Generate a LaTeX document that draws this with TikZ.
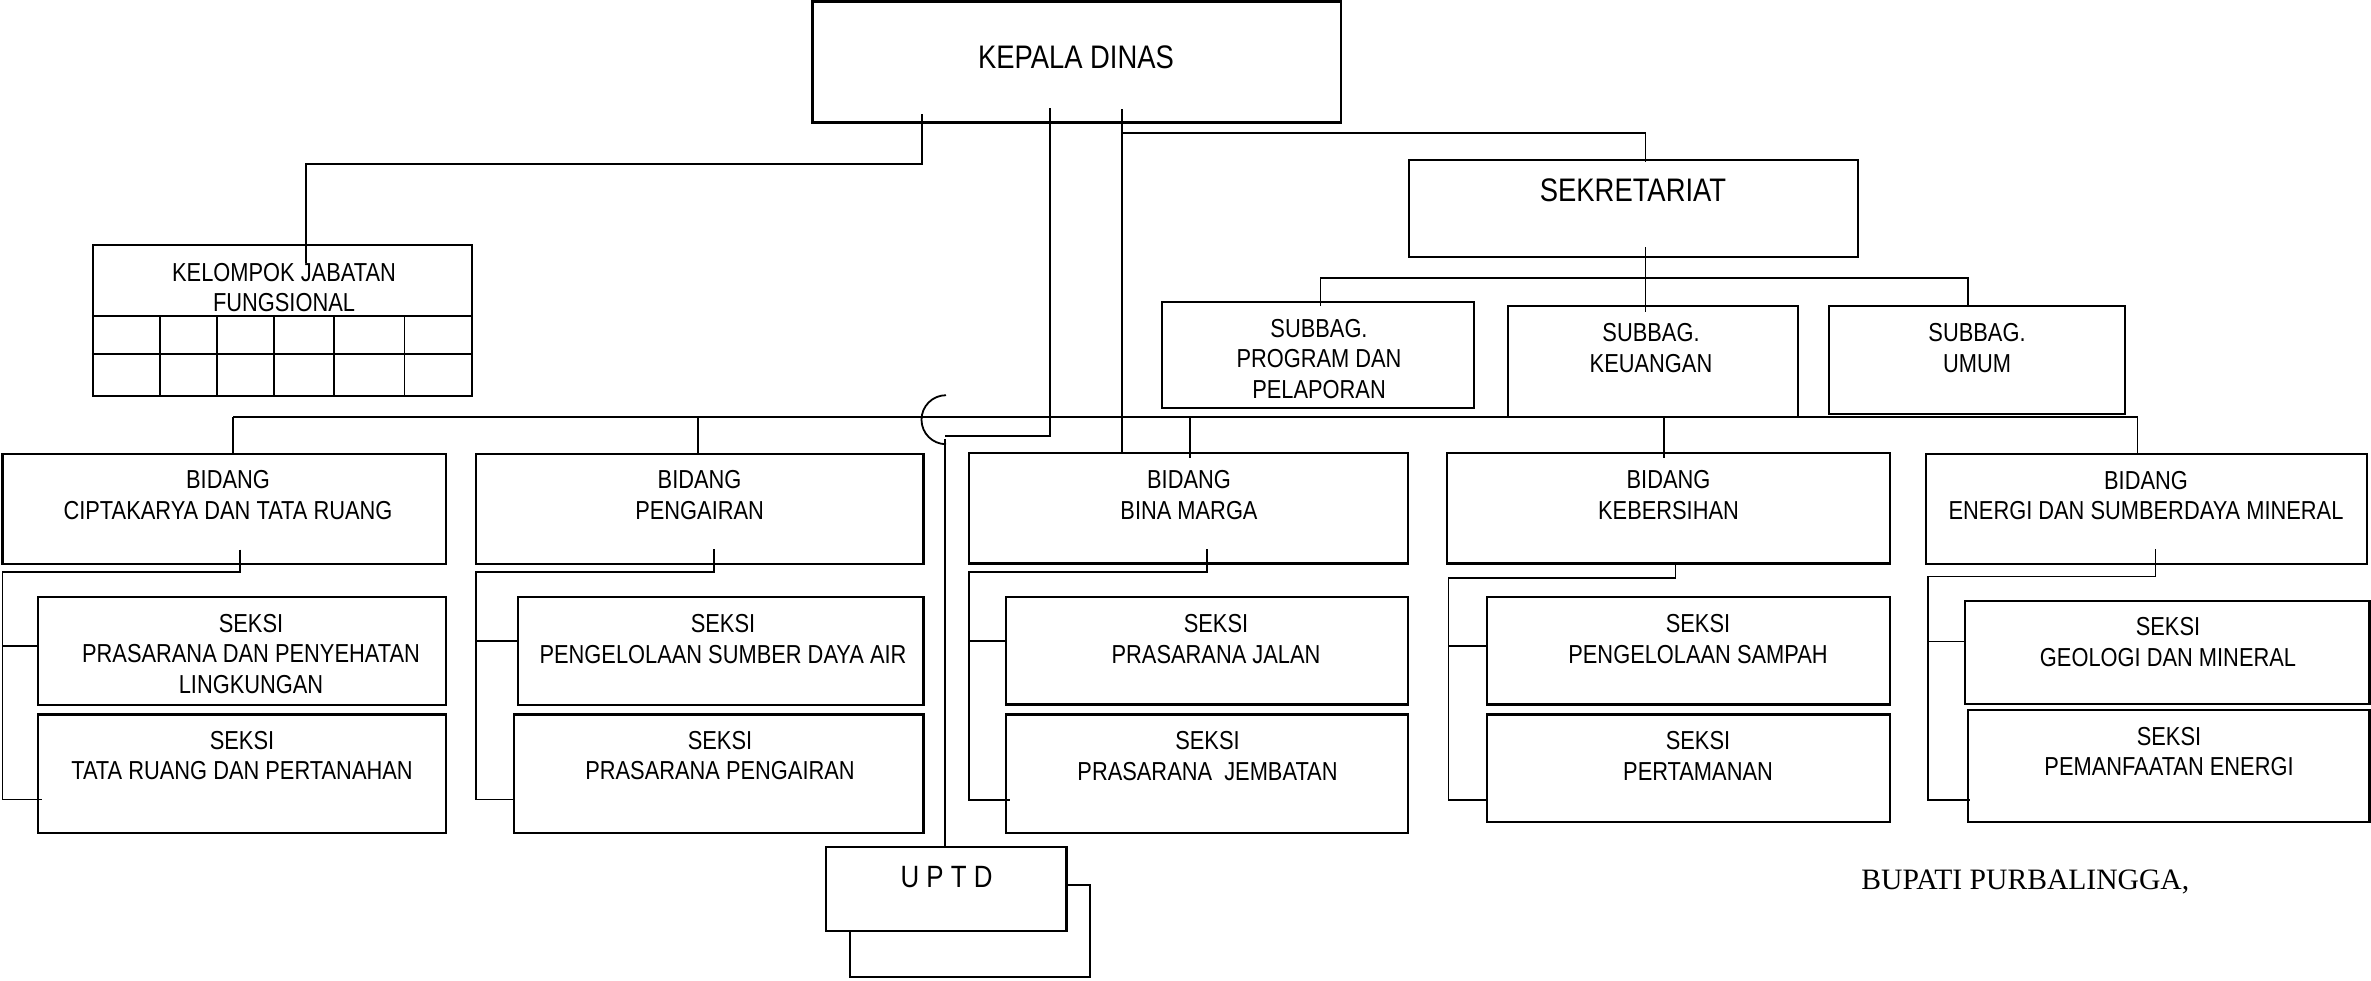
\documentclass[tikz,border=0pt]{standalone}
\usepackage{fontspec}
\newfontfamily\narrowsf[FakeStretch=0.84]{Liberation Sans}
\newfontfamily\timesrm{Liberation Serif}
\usetikzlibrary{fit}

\begin{document}
\begin{tikzpicture}[x=0.5pt, y=-0.5pt,
  box/.style={draw, line width=1.05pt, inner sep=0pt},
  link/.style={line width=0.9pt},
  lbl/.style={font=\narrowsf\fontsize{13}{15.3}\selectfont, align=center, inner sep=0pt},
  big/.style={font=\narrowsf\fontsize{16.3}{19}\selectfont, inner sep=0pt},
]
\useasboundingbox (0,0) rectangle (2371,980);

% ---------- top level ----------
\node[box, fit={(812.5,1.5) (1341,122.5)}] (kd) {};
\node[big] (kdT) at (1076,57) {KEPALA DINAS};

\node[box, fit={(1409,160) (1858,257)}] (sek) {};
\node[big] (sekT) at (1633,190) {SEKRETARIAT};

% functional group with its grid
\node[box, fit={(93,245) (472,396)}] (kjf) {};
\node[lbl] (kjfT) at (284,287.5) {KELOMPOK JABATAN\\FUNGSIONAL};
\draw[line width=1.05pt] (kjf.west |- 0,316) -- (kjf.east |- 0,316)
                         (kjf.west |- 0,354) -- (kjf.east |- 0,354);
\foreach \gx in {160,217,274,334,404.5}
  \draw[line width=0.9pt] (\gx,316) -- (\gx,316 |- kjf.south);

% ---------- sub-sections of the secretariat ----------
\node[box, fit={(1162,302) (1474,408)}] (sbp) {};
\node[lbl] (sbpT) at (1319,359) {SUBBAG.\\PROGRAM DAN\\PELAPORAN};
\node[box, fit={(1507.7,306) (1798,417)}] (sbk) {};
\node[lbl] (sbkT) at (1651,348) {SUBBAG.\\KEUANGAN};
\node[box, fit={(1828.7,306) (2125,414)}] (sbu) {};
\node[lbl] (sbuT) at (1977,348) {SUBBAG.\\UMUM};

% ---------- fields ----------
\node[box, fit={(2.5,453.8) (446,563.6)}] (bcp) {};
\node[lbl] (bcpT) at (228,495) {BIDANG\\CIPTAKARYA DAN TATA RUANG};
\node[box, fit={(476,453.8) (923.5,563.6)}] (bpg) {};
\node[lbl] (bpgT) at (699.6,495) {BIDANG\\PENGAIRAN};
\node[box, fit={(969,453) (1408,563.5)}] (bbm) {};
\node[lbl] (bbmT) at (1189,495.3) {BIDANG\\BINA MARGA};
\node[box, fit={(1446.6,453) (1890,563.5)}] (bkb) {};
\node[lbl] (bkbT) at (1668.5,495.3) {BIDANG\\KEBERSIHAN};
\node[box, fit={(1925.6,453.6) (2367,564)}] (bes) {};
\node[lbl] (besT) at (2146,495.5) {BIDANG\\ENERGI DAN SUMBERDAYA MINERAL};

% ---------- sections ----------
\node[box, fit={(38,597) (446,705)}] (s11) {};
\node[lbl] (s11T) at (251,654) {SEKSI\\PRASARANA DAN PENYEHATAN\\LINGKUNGAN};
\node[box, fit={(38,714.5) (446,833)}] (s12) {};
\node[lbl] (s12T) at (242,755.5) {SEKSI\\TATA RUANG DAN PERTANAHAN};

\node[box, fit={(518,597) (923.5,705)}] (s21) {};
\node[lbl] (s21T) at (723,639) {SEKSI\\PENGELOLAAN SUMBER DAYA AIR};
\node[box, fit={(514,714.5) (923.5,833)}] (s22) {};
\node[lbl] (s22T) at (720,755.5) {SEKSI\\PRASARANA PENGAIRAN};

\node[box, fit={(1006,597) (1408,704.5)}] (s31) {};
\node[lbl] (s31T) at (1216,639) {SEKSI\\PRASARANA JALAN};
\node[box, fit={(1006,714.5) (1408,833)}] (s32) {};
\node[lbl] (s32T) at (1207.5,756) {SEKSI\\PRASARANA~~JEMBATAN};

\node[box, fit={(1487,597) (1890,704.5)}] (s41) {};
\node[lbl] (s41T) at (1698,639) {SEKSI\\PENGELOLAAN SAMPAH};
\node[box, fit={(1487,714.5) (1890,821.7)}] (s42) {};
\node[lbl] (s42T) at (1698,756) {SEKSI\\PERTAMANAN};

\node[box, fit={(1964.6,601) (2369.5,704)}] (s51) {};
\node[lbl] (s51T) at (2168,642) {SEKSI\\GEOLOGI DAN MINERAL};
\node[box, fit={(1968,710) (2369.5,822)}] (s52) {};
\node[lbl] (s52T) at (2169,751.5) {SEKSI\\PEMANFAATAN ENERGI};

% ---------- technical unit (stacked boxes) ----------
\node[box, fit={(850,884.6) (1090,977)}] (uptdB) {};
\node[box, fill=white, fit={(826,847) (1066.5,931)}] (uptd) {};
\node[font=\narrowsf\fontsize{15.4}{18}\selectfont, inner sep=0pt] (uptdT) at (946.5,877) {U P T D};

% ---------- signature ----------
\node[font=\timesrm\fontsize{14.8}{17}\selectfont, anchor=base west, inner sep=0pt]
  (bupati) at (1861,889.6) {BUPATI PURBALINGGA,};

% ---------- connector points ----------
\coordinate (kdA) at (922,114);
\coordinate (kdAb) at (306,164);
\coordinate (kjfIn) at (306,263);
\coordinate (kdB) at (1050,108);
\coordinate (kdBb) at (945,436);
\coordinate (kdC) at (1122,109);
\coordinate (sekJ) at (1122,133);
\coordinate (sekIn) at (1645.5,162);
\coordinate (sekOut) at (1645.5,247);
\coordinate (sbkIn) at (1645.5,312);
\coordinate (sbL) at (1320.5,278);
\coordinate (sbR) at (1968,278);
\coordinate (busL) at (233,417);
\coordinate (busR) at (2137.5,417);
\coordinate (bus2) at (698,417);
\coordinate (bus3) at (1190,417);
\coordinate (bus4) at (1664,417);
\coordinate (upTop) at (945,439);

% head of the office to functional group
\draw[link] (kdA) |- (kdAb) -- (kjfIn);
% head of the office to the technical unit
\draw[link] (kdB) |- (kdBb);
\draw[link] (upTop) -- (upTop |- uptd.north);
\draw[link] (946,395.2) .. controls (932.5,395.2) and (921.5,406.2) .. (921.5,419.7)
                        .. controls (921.5,433.2) and (932.5,444.2) .. (946,444.2);
% head of the office to the fields and the secretariat
\draw[link] (kdC) -- (kdC |- bbm.north);
\draw[link] (sekJ) -| (sekIn);
% secretariat to its sub-sections
\draw[link] (sekOut) -- (sbkIn);
\draw[link] (sbL |- 0,306) |- (sbR) -- (sbR |- 0,306);

% bus of the fields
\draw[link] (busL) -- (busR);
\draw[link] (busL) -- (busL |- bcp.north);
\draw[link] (bus2) -- (bus2 |- bpg.north);
\draw[link] (bus3) -- (bus3 |- 0,458);
\draw[link] (bus4) -- (bus4 |- 0,458);
\draw[link] (busR) -- (busR |- bes.north);

% fields to their sections
\coordinate (c1) at (240,549.5);   \coordinate (c1b) at (2.5,572);
\coordinate (c1e) at (42,799.5);   \coordinate (c1s) at (2.5,646);
\draw[link] (c1) |- (c1b) |- (c1e);
\draw[link] (c1s) -- (c1s -| s11.west);

\coordinate (c2) at (713.6,549);   \coordinate (c2b) at (476,572);
\coordinate (c2e) at (515,799.5);  \coordinate (c2s) at (476,640.8);
\draw[link] (c2) |- (c2b) |- (c2e);
\draw[link] (c2s) -- (c2s -| s21.west);

\coordinate (c3) at (1207,549);    \coordinate (c3b) at (969,572);
\coordinate (c3e) at (1010,800);   \coordinate (c3s) at (969,641);
\draw[link] (c3) |- (c3b) |- (c3e);
\draw[link] (c3s) -- (c3s -| s31.west);

\coordinate (c4) at (1675.5,563.5); \coordinate (c4b) at (1448.5,577.6);
\coordinate (c4e) at (1487,800);    \coordinate (c4s) at (1448.5,645.6);
\draw[link] (c4) |- (c4b) |- (c4e);
\draw[link] (c4s) -- (c4s -| s41.west);

\coordinate (c5) at (2155.4,549);   \coordinate (c5b) at (1928,576.4);
\coordinate (c5e) at (1969.7,799.6); \coordinate (c5s) at (1928,641.4);
\draw[link] (c5) |- (c5b) |- (c5e);
\draw[link] (c5s) -- (c5s -| s51.west);
\end{tikzpicture}
\end{document}
